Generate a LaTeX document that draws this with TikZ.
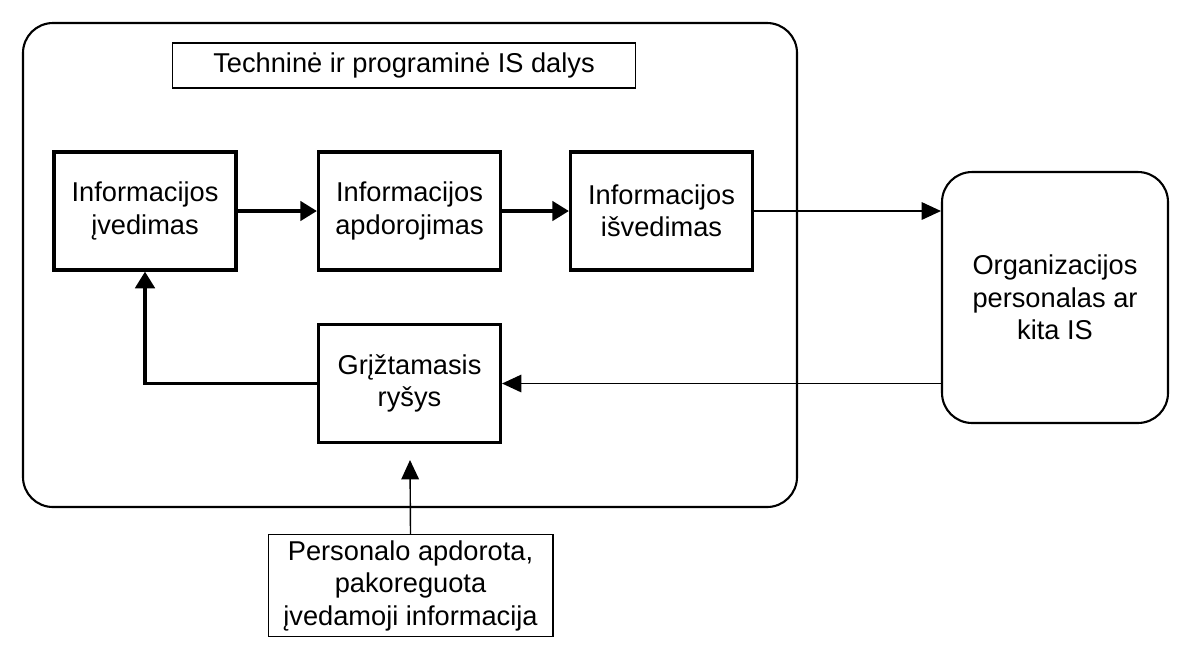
\documentclass[tikz,border=0pt]{standalone}
\usepackage{fontspec}
\setmainfont{Liberation Sans}
\usetikzlibrary{arrows.meta}

\begin{document}
\begin{tikzpicture}[x=0.02cm, y=-0.02cm,
  txt/.style={align=center, font=\fontsize{15.5}{18.5}\selectfont},
  blokas/.style={txt, draw, line width=1.8pt, minimum width=3.64cm, minimum height=2.36cm},
  remas/.style={txt, draw, line width=0.6pt},
  storas/.style={line width=2.2pt, -{Triangle[length=9.5pt, width=11pt]}},
  plonas/.style={line width=0.8pt, -{Triangle[length=11pt, width=10pt]}}]

\useasboundingbox (0,0) rectangle (1185,657);

\def\ya{211}; % upper row
\def\yb{383.5}; % lower row

% system boundary
\draw[line width=1.2pt, rounded corners=0.6cm] (23,23) rectangle (797,507);

\node[remas, minimum width=9.28cm, minimum height=0.9cm] (dalys) at (404,65.5) {Techninė ir programinė IS dalys};

\node[blokas] (ived) at (145,\ya) {Informacijos\\įvedimas};
\node[blokas] (apdor) at (409.5,\ya) {Informacijos\\apdorojimas};
\node[blokas] (isved) at (661.5,\ya) {Informacijos\\išvedimas};
\node[blokas] (grizt) at (409.5,\yb) {Grįžtamasis\\ryšys};

\node[txt, draw, line width=1.2pt, rounded corners=0.6cm,
  minimum width=4.52cm, minimum height=5.02cm] (org) at (1055,297.5)
  {Organizacijos\\personalas ar\\kita IS};

\node[remas, minimum width=5.7cm, minimum height=2cm] (pers) at (410.5,585.5)
  {Personalo apdorota,\\pakoreguota\\įvedamoji informacija};
\coordinate (galas) at (410,460);

\draw[storas] (ived) -- (apdor);
\draw[storas] (apdor) -- (isved);
\draw[plonas] (isved.east) -- (isved.east -| org.west);
\draw[plonas] (grizt.east -| org.west) -- (grizt.east);
\draw[storas] (grizt.west) -| (ived.south);
\draw[plonas] (pers.north) -- (galas);

\end{tikzpicture}
\end{document}
